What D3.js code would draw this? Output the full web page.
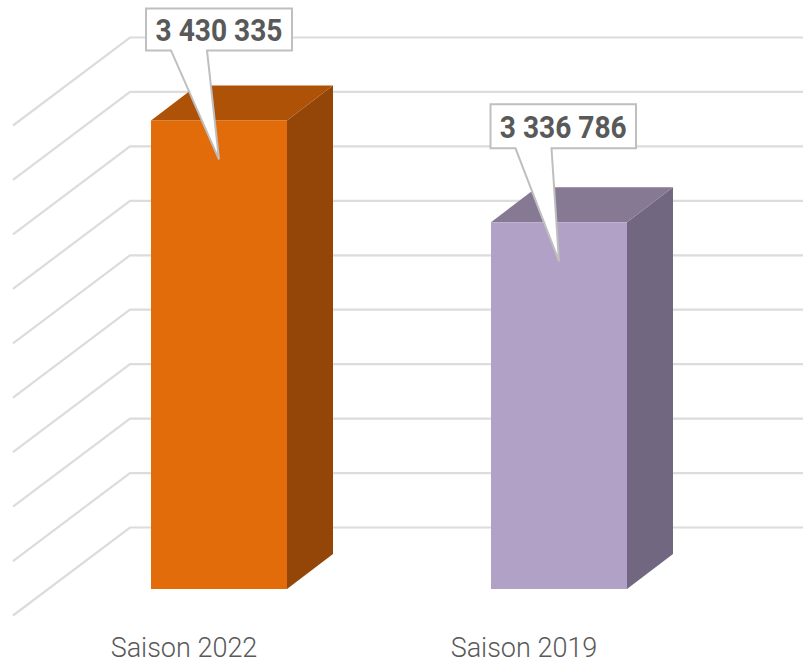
<!DOCTYPE html>
<html><head><meta charset="utf-8">
<script src="https://cdn.jsdelivr.net/npm/d3@7"></script>
<style>html,body{margin:0;padding:0;background:#fff}svg{display:block}</style></head>
<body><svg id="c" width="803" height="663"></svg>
<script>
const categories = ["Saison 2022", "Saison 2019"];
const values = [3430335, 3336786];
const valueLabels = ["3 430 335", "3 336 786"];
const frontColors = ["#E36C0A", "#B2A1C7"];
const topColors = ["#AE5208", "#857994"];
const sideColors = ["#934607", "#716780"];
const tickValues = d3.range(3000000, 3450001, 50000);

const svg = d3.select("#c");
const y = d3.scaleLinear().domain([3000000, 3450000]).range([527.5, 37.5]);
const x = d3.scaleBand().domain(categories).range([49, 729]).paddingInner(0.6).paddingOuter(0.3);

const wallDx = 117, wallDy = 88, barDx = 46, barDy = 35, frontShift = 61.5;
const grid = svg.append("g");
tickValues.forEach(t => {
  grid.append("path")
    .attr("d", `M${130 - wallDx},${y(t) + wallDy}L130,${y(t)}L803,${y(t)}`)
    .attr("fill", "none").attr("stroke", "#DCDCDC").attr("stroke-width", 2.2);
});

categories.forEach((c, i) => {
  const x0 = x(c), x1 = x0 + x.bandwidth();
  const yt = y(values[i]) + frontShift, yb = y(3000000) + frontShift;
  svg.append("path").attr("fill", sideColors[i])
    .attr("d", `M${x1},${yt}L${x1 + barDx},${yt - barDy}L${x1 + barDx},${yb - barDy}L${x1},${yb}Z`);
  svg.append("path").attr("fill", topColors[i])
    .attr("d", `M${x0},${yt}L${x0 + barDx},${yt - barDy}L${x1 + barDx},${yt - barDy}L${x1},${yt}Z`);
  svg.append("rect").attr("x", x0).attr("y", yt).attr("width", x.bandwidth()).attr("height", yb - yt).attr("fill", frontColors[i]);

  svg.append("text").text(c)
    .attr("x", x0 + x.bandwidth() / 2 - 35).attr("y", 656.5)
    .attr("text-anchor", "middle").attr("fill", "#595959")
    .style("font-family", "Roboto, sans-serif").style("font-weight", 300).style("font-size", "27px");
});

categories.forEach((c, i) => {
  const cx = x(c) + x.bandwidth() / 2;
  const yt = y(values[i]) + frontShift;
  const tipY = yt + 39, boxB = tipY - 109 + (i ? -4 : 0), boxT = boxB - (i ? 44 : 42);
  const bl = cx - 73 + (i ? 4.5 : 0), br = bl + (i ? 145.5 : 146);
  const a = bl + 25, b = a + 36;
  svg.append("path")
    .attr("d", `M${bl},${boxT}L${br},${boxT}L${br},${boxB}L${b},${boxB}L${cx},${tipY}L${a},${boxB}L${bl},${boxB}Z`)
    .attr("fill", "#fff").attr("stroke", "#BFBFBF").attr("stroke-width", 2).attr("stroke-linejoin", "miter");
  svg.append("text").text(valueLabels[i])
    .attr("x", (bl + br) / 2).attr("y", (boxT + boxB) / 2 + 12)
    .attr("text-anchor", "middle").attr("fill", "#595959")
    .style("font-family", "Roboto, sans-serif").style("font-weight", 700).style("font-size", "32px")
    .attr("textLength", 127).attr("lengthAdjust", "spacingAndGlyphs");
});
</script></body></html>
